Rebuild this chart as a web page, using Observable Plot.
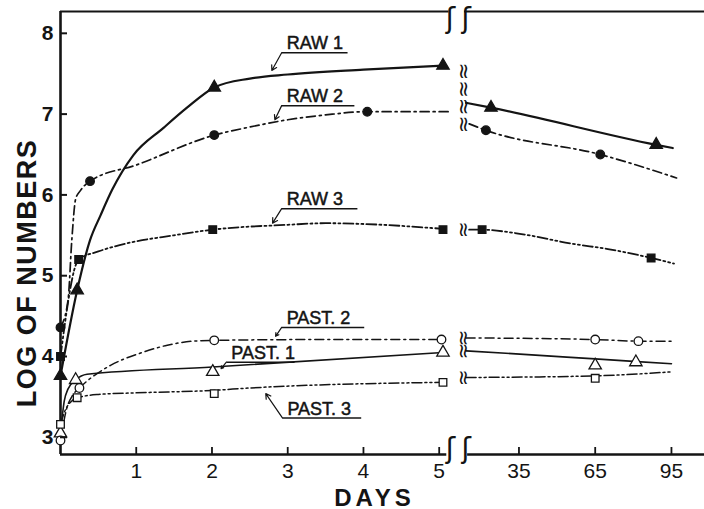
<!DOCTYPE html>
<html><head><meta charset="utf-8">
<script src="https://cdn.jsdelivr.net/npm/d3@7"></script>
<script src="https://cdn.jsdelivr.net/npm/@observablehq/plot@0.6"></script>
<style>
html,body{margin:0;padding:0;background:#fff;}
#chart{width:704px;height:509px;overflow:hidden;}
</style></head><body><div id="chart"></div>
<script>
// ---------------- data (days, log of numbers) ----------------
const yTicks = [3, 4, 5, 6, 7, 8];
const xTickDays = [1, 2, 3, 4, 5, 35, 65, 95];
const xTickLabels = ["1", "2", "3", "4", "5", "35", "65", "95"];

// RAW 1
const raw1LeftDays = [0, 0.22, 0.39, 0.53, 0.68, 0.96, 1.36, 1.67, 2.03, 2.5, 3.0, 4.0, 5.05];
const raw1LeftVals = [3.76, 4.82, 5.44, 5.75, 6.06, 6.49, 6.83, 7.08, 7.33, 7.44, 7.49, 7.55, 7.60];
const raw1RightDays = [14.2, 24, 89, 95.5];
const raw1RightVals = [7.14, 7.08, 6.62, 6.58];
const raw1MarkDays = [0, 0.22, 2.03, 5.05, 24, 89];
const raw1MarkVals = [3.76, 4.82, 7.33, 7.60, 7.08, 6.62];

// RAW 2
const raw2LeftDays = [0, 0.1, 0.15, 0.2, 0.26, 0.39, 1.0, 2.03, 2.5, 3.0, 3.5, 4.05, 5.15];
const raw2LeftVals = [4.36, 4.7, 5.45, 5.95, 6.05, 6.17, 6.37, 6.74, 6.84, 6.93, 6.99, 7.03, 7.03];
const raw2RightDays = [15.4, 22, 67, 97];
const raw2RightVals = [6.88, 6.80, 6.50, 6.21];
const raw2MarkDays = [0, 0.39, 2.03, 4.05, 22, 67];
const raw2MarkVals = [4.36, 6.17, 6.74, 7.03, 6.80, 6.50];

// RAW 3
const raw3LeftDays = [0, 0.24, 0.5, 0.92, 1.5, 2.01, 3.0, 3.5, 4.0, 5.05];
const raw3LeftVals = [4.0, 5.2, 5.3, 5.41, 5.5, 5.57, 5.63, 5.65, 5.64, 5.58];
const raw3RightDays = [15.4, 20.5, 33, 57, 70, 87, 96];
const raw3RightVals = [5.57, 5.57, 5.53, 5.39, 5.33, 5.22, 5.15];
const raw3MarkDays = [0, 0.24, 2.01, 5.05, 20.5, 87];
const raw3MarkVals = [4.0, 5.2, 5.57, 5.57, 5.57, 5.22];

// PAST. 1
const past1LeftDays = [0, 0.05, 0.1, 0.2, 0.35, 2.01, 5.05];
const past1LeftVals = [3.05, 3.45, 3.6, 3.71, 3.78, 3.87, 4.05];
const past1RightDays = [14.2, 40, 65, 95];
const past1RightVals = [4.07, 4.02, 3.97, 3.91];
const past1MarkDays = [0, 0.2, 2.01, 5.05, 65, 81];
const past1MarkVals = [3.05, 3.71, 3.81, 4.05, 3.89, 3.93];

// PAST. 2
const past2LeftDays = [0, 0.08, 0.16, 0.25, 0.66, 1.05, 1.41, 1.75, 2.03, 3.5, 5.03];
const past2LeftVals = [2.96, 3.35, 3.52, 3.61, 3.89, 4.04, 4.14, 4.19, 4.20, 4.21, 4.21];
const past2RightDays = [14.2, 65, 82, 95];
const past2RightVals = [4.23, 4.21, 4.19, 4.19];
const past2MarkDays = [0, 0.25, 2.03, 5.03, 65, 82];
const past2MarkVals = [2.96, 3.61, 4.20, 4.21, 4.21, 4.19];

// PAST. 3
const past3LeftDays = [0, 0.07, 0.22, 0.5, 1.0, 2.0, 2.5, 5.05];
const past3LeftVals = [3.16, 3.35, 3.49, 3.53, 3.55, 3.58, 3.61, 3.68];
const past3RightDays = [14.2, 65, 95];
const past3RightVals = [3.74, 3.76, 3.81];
const past3MarkDays = [0, 0.22, 2.03, 5.05, 65];
const past3MarkVals = [3.16, 3.49, 3.54, 3.68, 3.73];

// labels: text, underline from day x1 to x2 at value y, leader arrow to (tx, ty)
const labelTexts = ["RAW 1", "RAW 2", "RAW 3", "PAST. 2", "PAST. 1", "PAST. 3"];
const labelX1 = [2.92, 2.92, 2.92, 2.92, 2.19, 2.93];
const labelX2 = [3.79, 3.88, 3.92, 4.01, 3.09, 3.97];
const labelY = [7.76, 7.105, 5.83, 4.36, 3.93, 3.24];
const labelTX = [2.79, 2.83, 2.80, 2.84, 2.12, 2.71];
const labelTY = [7.54, 6.93, 5.65, 4.25, 3.85, 3.54];

// axis break (in days)
const breakLeftEnd = 5.1;
const breakRightStart = 14.8;
const xMaxDay = 108;

// ---------------- helpers ----------------
// compressed day axis: 0..5 linear, then 35/65/95 panel
function toU(d) { return d <= 6 ? d : 6.053 + (d - 35) / 29.8; }

const INK = "#141414";
const FONT = "Liberation Sans, Arial, sans-serif";

const series = [
  {left: [raw1LeftDays, raw1LeftVals], right: [raw1RightDays, raw1RightVals], mark: [raw1MarkDays, raw1MarkVals], symbol: "triangle", filled: true, dash: null, w: 2.2, brk: 4},
  {left: [raw2LeftDays, raw2LeftVals], right: [raw2RightDays, raw2RightVals], mark: [raw2MarkDays, raw2MarkVals], symbol: "circle", filled: true, dash: "9,4,2,4", w: 1.7, brk: 0},
  {left: [raw3LeftDays, raw3LeftVals], right: [raw3RightDays, raw3RightVals], mark: [raw3MarkDays, raw3MarkVals], symbol: "square", filled: true, dash: "10,3,2,3,2,3", w: 1.8, brk: 1},
  {left: [past1LeftDays, past1LeftVals], right: [past1RightDays, past1RightVals], mark: [past1MarkDays, past1MarkVals], symbol: "triangle", filled: false, dash: null, w: 1.6, brk: 1},
  {left: [past2LeftDays, past2LeftVals], right: [past2RightDays, past2RightVals], mark: [past2MarkDays, past2MarkVals], symbol: "circle", filled: false, dash: "9,4,2,4", w: 1.5, brk: 1},
  {left: [past3LeftDays, past3LeftVals], right: [past3RightDays, past3RightVals], mark: [past3MarkDays, past3MarkVals], symbol: "square", filled: false, dash: "10,3,2,3,2,3", w: 1.5, brk: 1}
];

const rows = ([days, vals]) => days.map((d, i) => ({u: toU(d), v: vals[i]}));

const marks = [];
// axis lines
const yMin = 2.787, yMax = 8.27;
marks.push(Plot.ruleX([0], {stroke: INK, strokeWidth: 2.6}));
marks.push(Plot.ruleY([yMin], {x1: 0, x2: toU(breakLeftEnd), stroke: INK, strokeWidth: 2.4}));
marks.push(Plot.ruleY([yMin], {x1: toU(breakRightStart), x2: toU(xMaxDay), stroke: INK, strokeWidth: 2.4}));
marks.push(Plot.ruleY([yMax], {x1: 0, x2: toU(breakLeftEnd) + 0.03, stroke: INK, strokeWidth: 2}));
marks.push(Plot.ruleY([yMax], {x1: toU(breakRightStart) - 0.04, x2: toU(xMaxDay), stroke: INK, strokeWidth: 2}));
// axis break glyphs
const brkU = [toU(breakLeftEnd) + 0.05, toU(breakRightStart) - 0.02];
marks.push(Plot.text(brkU, {x: d => d, frameAnchor: "bottom", text: () => "ʃ", fontSize: 28, fontFamily: "DejaVu Sans", lineAnchor: "bottom", dy: 3, fill: INK}));
marks.push(Plot.text(brkU, {x: d => d, frameAnchor: "top", text: () => "ʃ", fontSize: 28, fontFamily: "DejaVu Sans", lineAnchor: "top", dy: -3, fill: INK}));

// lines
for (const s of series) {
  for (const seg of [s.left, s.right]) {
    marks.push(Plot.line(rows(seg), {x: "u", y: "v", curve: "monotone-x", stroke: INK, strokeWidth: s.w, strokeDasharray: s.dash || undefined}));
  }
}
// break squiggles on the curves (a rotated "≈" gives two vertical wavy strokes)
for (const s of series) {
  if (!s.brk) continue;
  const v0 = s.right[1][0];
  const txt = "≈".repeat(s.brk);
  marks.push(Plot.text([v0], {x: () => 5.32, y: d => d, text: () => txt, rotate: 90, fontSize: s.brk > 1 ? 21 : 20, fontFamily: "DejaVu Sans", fill: INK, dy: s.brk > 1 ? -5 : 0}));
}
// markers
for (const s of series) {
  marks.push(Plot.dot(rows(s.mark), {x: "u", y: "v", symbol: s.symbol, r: s.symbol === "triangle" ? 4.6 : 4.3, fill: s.filled ? INK : "white", stroke: INK, strokeWidth: 1.3}));
}

// labels
const labels = labelTexts.map((t, i) => ({t, x1: labelX1[i], x2: labelX2[i], y: labelY[i], tx: labelTX[i], ty: labelTY[i]}));
marks.push(Plot.link(labels, {x1: "x1", x2: "x2", y1: "y", y2: "y", stroke: INK, strokeWidth: 1.5}));
marks.push(Plot.arrow(labels, {x1: "x1", y1: "y", x2: "tx", y2: "ty", stroke: INK, strokeWidth: 1.2, headLength: 7, bend: false}));
marks.push(Plot.text(labels, {x: "x1", y: "y", text: "t", textAnchor: "start", dx: 5, dy: -9, fontSize: 18, fontFamily: FONT, fill: INK, stroke: INK, strokeWidth: 0.5}));

// axes
const tickU = xTickDays.map(toU);
marks.push(Plot.axisX({ticks: tickU, tickFormat: u => xTickLabels[tickU.indexOf(u)], tickSize: -7, tickPadding: 16, fontSize: 21, strokeWidth: 1.8, label: null, fill: INK}));
marks.push(Plot.axisY({ticks: yTicks, tickFormat: d => String(d), tickSize: -7, tickPadding: 14, fontSize: 21, fontWeight: "bold", strokeWidth: 2, label: null, fill: INK}));

// axis titles
marks.push(Plot.text(["LOG OF NUMBERS"], {frameAnchor: "left", textAnchor: "middle", rotate: -90, dx: -33, dy: 40, fontSize: 27, fontWeight: "bold", fontFamily: FONT, fill: INK}));
marks.push(Plot.text(["DAYS"], {frameAnchor: "bottom", dx: -8, dy: 51, fontSize: 24, fontWeight: "bold", fontFamily: FONT, fill: INK}));

const chart = Plot.plot({
  width: 704, height: 509,
  marginLeft: 60, marginRight: 0, marginTop: 11, marginBottom: 55,
  x: {domain: [0, toU(xMaxDay)]},
  y: {domain: [yMin, yMax]},
  style: {fontFamily: FONT, background: "white", color: INK, overflow: "visible"},
  marks
});
d3.select(chart).selectAll("text").filter(function () { return this.textContent === "LOG OF NUMBERS"; }).attr("letter-spacing", 1.5);
d3.select(chart).selectAll("text").filter(function () { return this.textContent === "DAYS"; }).attr("letter-spacing", 4);
document.getElementById("chart").appendChild(chart);
</script>
</body></html>
